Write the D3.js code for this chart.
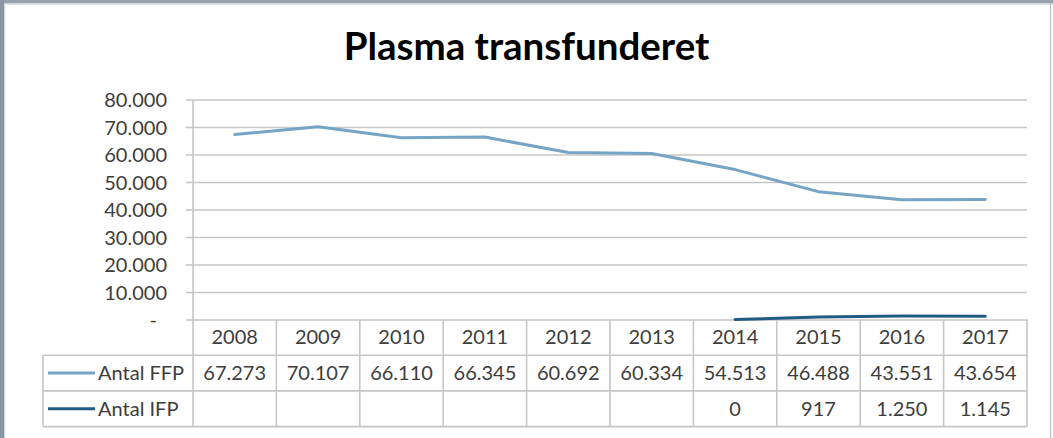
<!DOCTYPE html>
<html>
<head>
<meta charset="utf-8">
<script src="https://cdn.jsdelivr.net/npm/d3@7"></script>
<style>
  html, body { margin: 0; padding: 0; background: #fff; }
  svg { display: block; }
  text { font-family: Lato, "Open Sans", sans-serif; }
</style>
</head>
<body>
<svg id="chart" width="1053" height="438"></svg>
<script>
// ---- data ----
const title = "Plasma transfunderet";
const years = ["2008","2009","2010","2011","2012","2013","2014","2015","2016","2017"];
const seriesNames = ["Antal FFP", "Antal IFP"];
const ffpValues = [67273, 70107, 66110, 66345, 60692, 60334, 54513, 46488, 43551, 43654];
const ifpValues = [null, null, null, null, null, null, 0, 917, 1250, 1145];
const yTickValues = [0, 10000, 20000, 30000, 40000, 50000, 60000, 70000, 80000];
const seriesColors = ["#76a4c4", "#1f5b83"];

// ---- layout ----
const W = 1053, H = 438;
const plotLeft = 193, plotRight = 1027, plotTop = 99.5, plotBottom = 319.5;
const rowH = 35.7;
const legendLeft = 43;
const gridColor = "#c6c6c6";
const textColor = "#3d3d3d";

const svg = d3.select("#chart");

// frame
svg.append("rect").attr("x", 0).attr("y", 0).attr("width", W).attr("height", H).attr("fill", "#fff");
svg.append("rect").attr("x", 0).attr("y", 0).attr("width", W).attr("height", 3.5).attr("fill", "#98a2b0");
svg.append("rect").attr("x", 0).attr("y", 0).attr("width", 4).attr("height", H).attr("fill", "#8b96a5");
svg.append("rect").attr("x", 4).attr("y", 3.5).attr("width", 1.2).attr("height", H).attr("fill", "#d0d5dc");
svg.append("rect").attr("x", 4).attr("y", 3.5).attr("width", W).attr("height", 1.2).attr("fill", "#d0d5dc");
svg.append("line").attr("x1", 1050.5).attr("x2", 1050.5).attr("y1", 3).attr("y2", H)
  .attr("stroke", "#b8bec7").attr("stroke-width", 1.2);

// title
svg.append("text")
  .attr("x", 526.5).attr("y", 60)
  .attr("text-anchor", "middle")
  .attr("font-size", 38.5).attr("font-weight", 700)
  .attr("fill", "#000")
  .text(title);

// scales
const x = d3.scaleBand().domain(years).range([plotLeft, plotRight]).padding(0);
const y = d3.scaleLinear().domain([0, 80000]).range([plotBottom, plotTop]);

const locale = d3.formatLocale({decimal: ",", thousands: ".", grouping: [3], currency: ["", ""]});
const valFmt = locale.format(",.0f");
const fmt = v => v === 0 ? "-" : valFmt(v);

// gridlines via axis
const gridAxis = d3.axisLeft(y).tickValues(yTickValues).tickSize(-(plotRight - plotLeft)).tickFormat("");
const gg = svg.append("g").attr("transform", `translate(${plotLeft},0)`).call(gridAxis);
gg.select(".domain").remove();
gg.selectAll(".tick line").attr("stroke", gridColor).attr("stroke-width", 1.6);

// y axis with ticks & labels
const yAxis = d3.axisLeft(y).tickValues(yTickValues).tickSize(7).tickPadding(19).tickFormat(fmt);
const ya = svg.append("g").attr("transform", `translate(${plotLeft},0)`).call(yAxis);
ya.select(".domain").attr("stroke", gridColor).attr("stroke-width", 1.6).attr("d", `M0,${plotTop}V${plotBottom + 3 * rowH}`);
ya.selectAll(".tick line").attr("stroke", gridColor).attr("stroke-width", 1.6);
ya.selectAll(".tick text")
  .attr("font-size", 20).attr("fill", textColor)
  .attr("font-family", "Lato, sans-serif")
  .attr("dy", "0.35em")
  .attr("dx", d => d === 0 ? -10 : 0);

// data table
const tableBottom = plotBottom + 3 * rowH;
const tbl = svg.append("g");
[plotBottom + rowH, plotBottom + 2 * rowH, tableBottom].forEach(yy => {
  tbl.append("line").attr("x1", legendLeft).attr("x2", plotRight).attr("y1", yy).attr("y2", yy)
    .attr("stroke", gridColor).attr("stroke-width", 1.6);
});
years.forEach(yr => {
  const xx = x(yr) + x.bandwidth();
  tbl.append("line").attr("x1", xx).attr("x2", xx).attr("y1", plotBottom).attr("y2", tableBottom)
    .attr("stroke", gridColor).attr("stroke-width", 1.6);
});
tbl.append("line").attr("x1", legendLeft).attr("x2", legendLeft).attr("y1", plotBottom + rowH).attr("y2", tableBottom)
  .attr("stroke", gridColor).attr("stroke-width", 1.6);

years.forEach(yr => {
  tbl.append("text").attr("x", x(yr) + x.bandwidth() / 2).attr("y", plotBottom + rowH / 2)
    .attr("dy", "0.35em").attr("text-anchor", "middle").attr("font-size", 20).attr("fill", textColor).text(yr);
});

const tableSeries = [ffpValues, ifpValues];
tableSeries.forEach((vals, si) => {
  const cy = plotBottom + rowH * (si + 1) + rowH / 2;
  tbl.append("line").attr("x1", 48).attr("x2", 95).attr("y1", cy).attr("y2", cy)
    .attr("stroke", seriesColors[si]).attr("stroke-width", 3);
  tbl.append("text").attr("x", 98).attr("y", cy).attr("dy", "0.35em")
    .attr("font-size", 20).attr("fill", textColor).text(seriesNames[si]);
  vals.forEach((v, i) => {
    if (v === null) return;
    tbl.append("text").attr("x", x(years[i]) + x.bandwidth() / 2).attr("y", cy)
      .attr("dy", "0.35em").attr("text-anchor", "middle").attr("font-size", 20).attr("fill", textColor)
      .text(valFmt(v));
  });
});

// lines
const line = d3.line()
  .defined(d => d.v !== null)
  .x(d => x(d.yr) + x.bandwidth() / 2)
  .y(d => y(d.v));

tableSeries.forEach((vals, si) => {
  const data = years.map((yr, i) => ({yr, v: vals[i]}));
  svg.append("path").datum(data)
    .attr("fill", "none").attr("stroke", seriesColors[si]).attr("stroke-width", 3)
    .attr("stroke-linejoin", "round").attr("stroke-linecap", "round")
    .attr("d", line);
});
</script>
</body>
</html>
